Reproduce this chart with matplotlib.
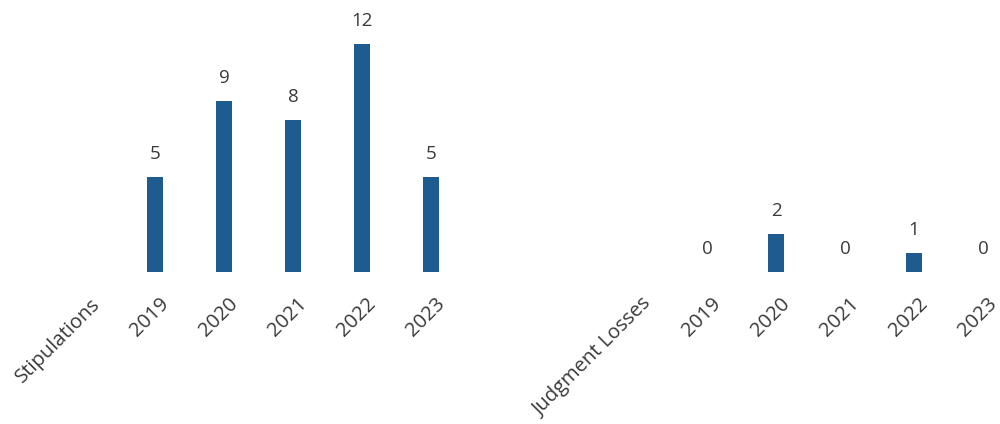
import numpy as np
import matplotlib.pyplot as plt
from matplotlib.transforms import ScaledTranslation

plt.rcParams['font.family'] = ['Open Sans', 'DejaVu Sans']

# dữ liệu
years = ['2019', '2020', '2021', '2022', '2023']
group_names = ['Stipulations', 'Judgment Losses']
stipulations = [5, 9, 8, 12, 5]
judgment_losses = [0, 2, 0, 1, 0]

bar_color = '#1e5b8e'
text_color = '#3a3a3a'

# vị trí: nhãn nhóm ở 0 và 8, các năm ở 1..5 và 9..13
left_x = np.arange(1, 6)
right_x = np.arange(9, 14)

fig = plt.figure(figsize=(10, 4.24), dpi=100)
ax = fig.add_axes([0, 1 - 272 / 424, 1, 266 / 424])

for xs, vals in [(left_x, stipulations), (right_x, judgment_losses)]:
    bars = ax.bar(xs, vals, width=0.22, color=bar_color)
    for b, v in zip(bars, vals):
        ax.annotate(str(v), (b.get_x() + b.get_width() / 2, v),
                    xytext=(0, 10), textcoords='offset points',
                    ha='center', va='bottom', fontsize=13.5, color=text_color)

# nhãn trục x xoay 45 độ, neo ở đầu chữ
ticks = [0] + list(left_x) + [8] + list(right_x)
labels = [group_names[0]] + years + [group_names[1]] + years
trans = ax.get_xaxis_transform() + ScaledTranslation(11 / 100, -29 / 100, fig.dpi_scale_trans)
for t, lab in zip(ticks, labels):
    ax.text(t, 0, lab, transform=trans, rotation=45, rotation_mode='anchor',
            ha='right', va='center', fontsize=14.5, color=text_color)

ax.set_xticks([])
ax.set_yticks([])
for s in ax.spines.values():
    s.set_visible(False)

ax.set_xlim(-86 / 69, 914 / 69)
ax.set_ylim(0, 14)

fig.savefig('out.png', dpi=100)
